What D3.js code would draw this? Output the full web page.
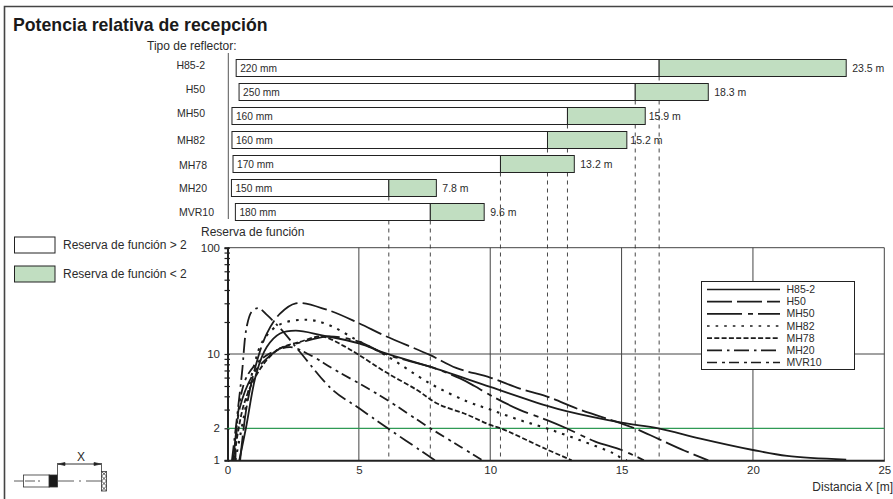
<!DOCTYPE html>
<html>
<head>
<meta charset="utf-8">
<script src="https://cdn.jsdelivr.net/npm/d3@7"></script>
<style>
  html, body { margin: 0; padding: 0; background: #fff; }
  svg { display: block; }
  text { font-family: "Liberation Sans", Arial, sans-serif; fill: #2b2b2b; }
</style>
</head>
<body>
<div id="chart"></div>
<script>
const reflectors = ["H85-2", "H50", "MH50", "MH82", "MH78", "MH20", "MVR10"];
const sizes = ["220 mm", "250 mm", "160 mm", "160 mm", "170 mm", "150 mm", "180 mm"];
const rangeLabels = ["23.5 m", "18.3 m", "15.9 m", "15.2 m", "13.2 m", "7.8 m", "9.6 m"];
const barStart = [0.33, 0.44, 0.17, 0.17, 0.21, 0.15, 0.3];
const barSplit = [16.43, 15.52, 12.94, 12.18, 10.39, 6.14, 7.72];
const barEnd = [23.55, 18.3, 15.9, 15.2, 13.2, 7.95, 9.77];

const xTicks = [0, 5, 10, 15, 20, 25];
const yLabels = [1, 2, 10, 100];
const yMinor = [1, 2, 3, 4, 5, 6, 7, 8, 9, 10, 20, 30, 40, 50, 60, 70, 80, 90, 100];

// [distance, reserve]
const curveH852 = [[0.45, 1], [0.7, 2], [1.1, 6.6], [1.5, 11.7], [2, 15.6], [2.6, 16.6], [3.6, 15], [5, 12.6], [6, 10.2], [7.7, 7.6], [10, 4.9], [12.14, 3.27], [12.9, 2.9], [15, 2.26], [16.4, 2], [18, 1.6], [20, 1.25], [21.3, 1.1], [23.55, 1.015]];
const curveH50 = [[0.48, 1], [0.73, 3.2], [1.1, 8.2], [1.5, 15.6], [2, 24], [2.6, 30], [3.8, 26], [5, 19.5], [6, 14.8], [7.7, 9.8], [8.7, 7.4], [10, 6], [11.1, 4.75], [12.14, 4], [13.4, 3], [14.9, 2.26], [15.5, 2], [16.4, 1.59], [17.4, 1.23], [18.3, 1]];
const curveMH50 = [[0.23, 1], [0.48, 3.2], [1, 6.6], [1.5, 9.1], [2, 11.3], [2.75, 12.8], [3.8, 14.6], [5, 13.1], [6, 10], [7.7, 7.6], [8.85, 5.9], [9.4, 5], [10, 4.1], [11.1, 3], [12.14, 2.4], [12.9, 2], [14, 1.5], [15, 1.25], [15.85, 1]];
const curveMH82 = [[0.3, 1], [0.6, 2.4], [1, 7.6], [1.37, 13.6], [2, 19], [3, 21], [3.8, 19], [5, 13.2], [6, 9.8], [7.7, 5.3], [9.1, 3.6], [10, 3], [11.1, 2.4], [12.14, 2], [13.4, 1.55], [14.7, 1.16], [15, 1.05], [15.2, 1]];
const curveMH78 = [[0.23, 1], [0.6, 3.2], [1, 5.7], [1.5, 8.8], [2, 11.3], [2.75, 13], [3.6, 14.6], [4.4, 12], [5, 9.8], [6, 6.8], [7.2, 4.6], [8, 3.4], [9.1, 2.7], [10, 2.15], [10.4, 2], [12.14, 1.27], [13.1, 1]];
const curveMH20 = [[0.17, 1], [0.35, 2.4], [0.55, 6.6], [0.73, 18], [0.92, 25], [1.18, 27], [1.5, 23.3], [2, 17.5], [2.75, 10.5], [4, 4.6], [5, 3.1], [6.1, 2], [7.7, 1.08], [7.9, 1]];
const curveMVR10 = [[0.3, 1], [0.42, 3], [0.73, 6.1], [1.25, 8.8], [1.75, 10.5], [2.4, 11.6], [3.14, 9.8], [4, 7.3], [5, 5.3], [6, 3.8], [7.72, 2], [8.85, 1.35], [9.7, 1]];
const curves = [curveH852, curveH50, curveMH50, curveMH82, curveMH78, curveMH20, curveMVR10];

const dashes = [null, "25,5", "35,6,5,5", "2.6,6", "5,2.3", "15,5,2.5,4.5", "10,5,3,4"];
const ink = "#222";
const greenFill = "#c1dec1";

const width = 893;
const height = 499;
const x = d3.scaleLinear().domain([0, 25]).range([227.5, 884.3]);
const y = d3.scaleLog().domain([1, 100]).range([460.3, 247.7]);
const rowY = d3.scalePoint().domain(reflectors).range([59.5, 203.5]);
const barH = 17;

const svg = d3.select("#chart").append("svg")
  .attr("width", width)
  .attr("height", height);

// frame
svg.append("path")
  .attr("d", "M4.5," + height + "V6.5H" + width)
  .attr("fill", "none")
  .attr("stroke", "#444")
  .attr("stroke-width", 1.6);

svg.append("text")
  .attr("x", 13).attr("y", 31)
  .attr("font-size", 17.7).attr("font-weight", "bold")
  .style("fill", "#1a1a1a")
  .text("Potencia relativa de recepción");

svg.append("text")
  .attr("x", 147).attr("y", 50)
  .attr("font-size", 12)
  .text("Tipo de reflector:");

svg.append("line")
  .attr("x1", 228.3).attr("x2", 228.3)
  .attr("y1", 53).attr("y2", 219)
  .attr("stroke", "#555").attr("stroke-width", 1);

// grid
const grid = svg.append("g");
grid.selectAll("line.v").data(xTicks.slice(1)).enter().append("line")
  .attr("x1", d => x(d)).attr("x2", d => x(d))
  .attr("y1", y(100)).attr("y2", y(1))
  .attr("stroke", "#444").attr("stroke-width", 1);
grid.selectAll("line.h").data([10, 100]).enter().append("line")
  .attr("x1", x(0)).attr("x2", x(25))
  .attr("y1", d => y(d)).attr("y2", d => y(d))
  .attr("stroke", "#444").attr("stroke-width", 1);

// dashed drop lines from the 2x point of each bar, drawn under the bars
svg.append("g").selectAll("line").data(reflectors).enter().append("line")
  .attr("x1", (d, i) => x(barSplit[i])).attr("x2", (d, i) => x(barSplit[i]))
  .attr("y1", d => rowY(d) + barH).attr("y2", y(1))
  .attr("stroke", "#333").attr("stroke-width", 0.9)
  .attr("stroke-dasharray", "4,4");

// bars
const rows = svg.append("g").selectAll("g").data(reflectors).enter().append("g");
rows.append("rect")
  .attr("x", (d, i) => x(barStart[i]))
  .attr("width", (d, i) => x(barSplit[i]) - x(barStart[i]))
  .attr("y", d => rowY(d)).attr("height", barH)
  .attr("fill", "#fff").attr("stroke", ink).attr("stroke-width", 1);
rows.append("rect")
  .attr("x", (d, i) => x(barSplit[i]))
  .attr("width", (d, i) => x(barEnd[i]) - x(barSplit[i]))
  .attr("y", d => rowY(d)).attr("height", barH)
  .attr("fill", greenFill).attr("stroke", ink).attr("stroke-width", 1);
rows.append("text")
  .attr("x", (d, i) => x(barStart[i]) + 4)
  .attr("y", d => rowY(d) + 12.5)
  .attr("font-size", 10.2)
  .text((d, i) => sizes[i]);
rows.append("text")
  .attr("x", (d, i) => x(barEnd[i]) + (i === 2 || i === 3 ? 3.5 : 6))
  .attr("y", d => rowY(d) + 12.5)
  .attr("font-size", 10.5)
  .text((d, i) => rangeLabels[i]);

const nameShiftX = [0, 0, 0, 0, 2, 2, 9];
const nameShiftY = [-3, -3, -3, 0, 1, 0, 0];
rows.append("text")
  .attr("x", (d, i) => 205 + nameShiftX[i])
  .attr("y", (d, i) => rowY(d) + 12 + nameShiftY[i])
  .attr("text-anchor", "end")
  .attr("font-size", 10.5)
  .text(d => d);

// left legend
const keyFill = ["#fff", greenFill];
const keyText = ["Reserva de función > 2", "Reserva de función < 2"];
const keys = svg.append("g").selectAll("g").data(keyText).enter().append("g");
keys.append("rect")
  .attr("x", 14.5).attr("width", 40.5)
  .attr("y", (d, i) => 237 + i * 29).attr("height", 16)
  .attr("fill", (d, i) => keyFill[i])
  .attr("stroke", ink).attr("stroke-width", 1);
keys.append("text")
  .attr("x", 63).attr("y", (d, i) => 248.5 + i * 29)
  .attr("font-size", 12)
  .text(d => d);

svg.append("text")
  .attr("x", 201).attr("y", 236)
  .attr("font-size", 12)
  .text("Reserva de función");

// axes
const yAxis = svg.append("g").attr("transform", "translate(" + x(0) + ",0)")
  .call(d3.axisLeft(y).tickValues(yMinor).tickSize(3).tickPadding(4.5)
    .tickFormat(d => yLabels.includes(d) ? d : ""));
yAxis.select(".domain").attr("stroke", ink).attr("stroke-width", 2);
// the ticks straddle the axis in the original
yAxis.selectAll(".tick line").attr("x2", 2.5).attr("x1", -3)
  .attr("stroke", ink).attr("stroke-width", 1.2);
yAxis.selectAll("text").attr("font-size", 11.5).attr("font-family", null);

const xAxis = svg.append("g").attr("transform", "translate(0," + y(1) + ")")
  .call(d3.axisBottom(x).tickValues(xTicks).tickSize(0).tickPadding(6));
xAxis.select(".domain").attr("stroke", ink).attr("stroke-width", 2);
xAxis.selectAll("text").attr("font-size", 11.5).attr("font-family", null);

svg.append("text")
  .attr("x", 893).attr("y", 491)
  .attr("text-anchor", "end")
  .attr("font-size", 12)
  .text("Distancia X [m]");

// green threshold
svg.append("line")
  .attr("x1", x(0)).attr("x2", x(25))
  .attr("y1", y(2)).attr("y2", y(2))
  .attr("stroke", "#2f9a55").attr("stroke-width", 1.3);

// curves
const line = d3.line()
  .x(d => x(d[0]))
  .y(d => y(d[1]))
  .curve(d3.curveCatmullRom.alpha(0.5));
svg.append("g").selectAll("path").data(curves).enter().append("path")
  .attr("d", line)
  .attr("fill", "none")
  .attr("stroke", "#1c1c1c")
  .attr("stroke-width", (d, i) => i === 3 ? 2.1 : 1.8)
  .attr("stroke-dasharray", (d, i) => dashes[i]);

// curve legend
svg.append("rect")
  .attr("x", 701.5).attr("y", 281.5)
  .attr("width", 153).attr("height", 88)
  .attr("fill", "#fff").attr("stroke", ink).attr("stroke-width", 1);
const legendY = d3.scalePoint().domain(reflectors).range([289.5, 362.5]);
const legendRows = svg.append("g").selectAll("g").data(reflectors).enter().append("g");
legendRows.append("line")
  .attr("x1", 707).attr("x2", 780)
  .attr("y1", d => legendY(d)).attr("y2", d => legendY(d))
  .attr("stroke", "#1c1c1c").attr("stroke-width", 1.7)
  .attr("stroke-dasharray", (d, i) => dashes[i]);
legendRows.append("text")
  .attr("x", 786.5).attr("y", d => legendY(d) + 3.5)
  .attr("font-size", 10.5)
  .text(d => d);

// sensor sketch
const sketch = svg.append("g").attr("fill", "none").attr("stroke", "#333").attr("stroke-width", 0.8);
sketch.append("path").attr("d", "M14,481H23");
sketch.append("rect").attr("x", 23.5).attr("y", 475).attr("width", 26).attr("height", 12);
sketch.append("path").attr("d", "M25,481H42").attr("stroke-dasharray", "10,3,2,3");
sketch.append("rect").attr("x", 49).attr("y", 475).attr("width", 8.5).attr("height", 12)
  .attr("fill", "#1a1a1a");
sketch.append("path").attr("d", "M58,481H101").attr("stroke-dasharray", "16,5,2,5");
sketch.append("path").attr("d", "M57.5,475V463M101.5,471V463");
sketch.append("rect").attr("x", 101.5).attr("y", 471.5).attr("width", 5).attr("height", 19.5);
sketch.append("path").attr("d", "M101.5,471.5L106.5,476L101.5,481L106.5,486L101.5,491M106.5,471.5L101.5,476L106.5,481L101.5,486L106.5,491");
sketch.append("path").attr("d", "M58,464H101").attr("stroke-width", 1);
sketch.append("path").attr("d", "M58,464L65,462.5V465.5ZM101,464L94,462.5V465.5Z")
  .attr("fill", "#1a1a1a");
svg.append("text")
  .attr("x", 81).attr("y", 461)
  .attr("text-anchor", "middle")
  .attr("font-size", 12)
  .text("X");
</script>
</body>
</html>
